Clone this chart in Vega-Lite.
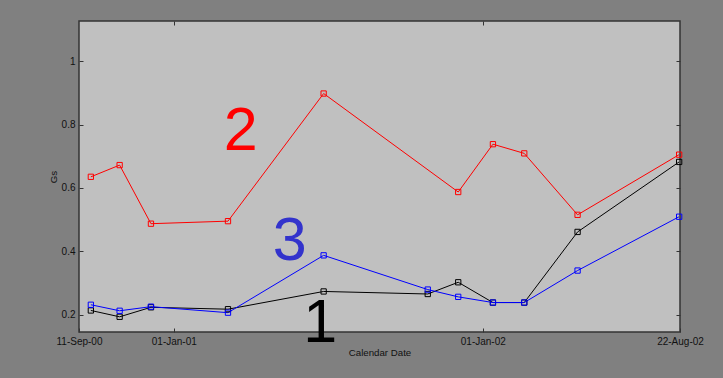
{
  "$schema": "https://vega.github.io/schema/vega-lite/v6.json",
  "width": 601,
  "height": 311,
  "autosize": "none",
  "padding": {"left": 79, "top": 21, "right": 43, "bottom": 46},
  "background": "#808080",
  "config": {
    "font": "Liberation Sans",
    "view": {"fill": "#c0c0c0", "stroke": "#333333", "strokeWidth": 1.5},
    "axis": {
      "domain": false,
      "grid": false,
      "ticks": true,
      "tickColor": "#333333",
      "tickSize": -4,
      "labelPadding": 8,
      "labelFont": "Liberation Sans",
      "labelFontSize": 10,
      "labelColor": "#111111",
      "titleFont": "Liberation Sans",
      "titleFontSize": 9.7,
      "titleFontWeight": "normal",
      "titleColor": "#111111"
    }
  },
  "datasets": {
    "gs": [
      {"date": "2000-09-25", "series": "1", "gs": 0.213},
      {"date": "2000-10-29", "series": "1", "gs": 0.193},
      {"date": "2000-12-05", "series": "1", "gs": 0.223},
      {"date": "2001-03-06", "series": "1", "gs": 0.217},
      {"date": "2001-06-27", "series": "1", "gs": 0.273},
      {"date": "2001-10-28", "series": "1", "gs": 0.265},
      {"date": "2001-12-03", "series": "1", "gs": 0.302},
      {"date": "2002-01-13", "series": "1", "gs": 0.238},
      {"date": "2002-02-19", "series": "1", "gs": 0.238},
      {"date": "2002-04-23", "series": "1", "gs": 0.461},
      {"date": "2002-08-21", "series": "1", "gs": 0.682},
      {"date": "2000-09-25", "series": "2", "gs": 0.635},
      {"date": "2000-10-29", "series": "2", "gs": 0.672},
      {"date": "2000-12-05", "series": "2", "gs": 0.487},
      {"date": "2001-03-06", "series": "2", "gs": 0.495},
      {"date": "2001-06-27", "series": "2", "gs": 0.898},
      {"date": "2001-12-03", "series": "2", "gs": 0.587},
      {"date": "2002-01-13", "series": "2", "gs": 0.738},
      {"date": "2002-02-19", "series": "2", "gs": 0.709},
      {"date": "2002-04-23", "series": "2", "gs": 0.515},
      {"date": "2002-08-21", "series": "2", "gs": 0.705},
      {"date": "2000-09-25", "series": "3", "gs": 0.231},
      {"date": "2000-10-29", "series": "3", "gs": 0.212},
      {"date": "2000-12-05", "series": "3", "gs": 0.225},
      {"date": "2001-03-06", "series": "3", "gs": 0.206},
      {"date": "2001-06-27", "series": "3", "gs": 0.387},
      {"date": "2001-10-28", "series": "3", "gs": 0.279},
      {"date": "2001-12-03", "series": "3", "gs": 0.256},
      {"date": "2002-01-13", "series": "3", "gs": 0.238},
      {"date": "2002-02-19", "series": "3", "gs": 0.238},
      {"date": "2002-04-23", "series": "3", "gs": 0.339},
      {"date": "2002-08-21", "series": "3", "gs": 0.509}
    ],
    "labels": [
      {"date": "2001-06-23", "gs": 0.114, "label": "1"},
      {"date": "2001-03-21", "gs": 0.72, "label": "2"},
      {"date": "2001-05-18", "gs": 0.372, "label": "3"}
    ]
  },
  "layer": [
    {
      "data": {"name": "gs"},
      "mark": {
        "type": "line",
        "strokeWidth": 1,
        "point": {"shape": "square", "filled": false, "size": 28, "strokeWidth": 1}
      },
      "encoding": {
        "x": {
          "field": "date",
          "type": "temporal",
          "scale": {
            "type": "utc",
            "domain": [
              {"year": 2000, "month": 9, "date": 11, "utc": true},
              {"year": 2002, "month": 8, "date": 22, "utc": true}
            ]
          },
          "axis": {
            "orient": "bottom",
            "title": "Calendar Date",
            "titlePadding": 1,
            "labelExpr": "utcFormat(datum.value, '%d-%b-%y')",
            "values": [
              {"year": 2000, "month": 9, "date": 11, "utc": true},
              {"year": 2001, "month": 1, "date": 1, "utc": true},
              {"year": 2002, "month": 1, "date": 1, "utc": true},
              {"year": 2002, "month": 8, "date": 22, "utc": true}
            ],
            "labelFlush": false,
            "labelOverlap": false,
            "labelBound": false
          }
        },
        "y": {
          "field": "gs",
          "type": "quantitative",
          "scale": {"domain": [0.145, 1.127], "nice": false, "zero": false},
          "axis": {
            "orient": "left",
            "title": "Gs",
            "titlePadding": 3,
            "values": [0.2, 0.4, 0.6, 0.8, 1],
            "format": "~g",
            "labelOverlap": false
          }
        },
        "color": {
          "field": "series",
          "type": "nominal",
          "scale": {"domain": ["1", "2", "3"], "range": ["#000000", "#ff0000", "#0000ff"]},
          "legend": null
        }
      }
    },
    {
      "data": {"name": "labels"},
      "mark": {"type": "text", "fontSize": 61, "font": "Liberation Sans", "align": "center", "baseline": "alphabetic"},
      "encoding": {
        "x": {
          "field": "date",
          "type": "temporal",
          "scale": {
            "type": "utc",
            "domain": [
              {"year": 2000, "month": 9, "date": 11, "utc": true},
              {"year": 2002, "month": 8, "date": 22, "utc": true}
            ]
          },
          "axis": {
            "orient": "top",
            "title": null,
            "labels": false,
            "values": [
              {"year": 2001, "month": 1, "date": 1, "utc": true},
              {"year": 2002, "month": 1, "date": 1, "utc": true}
            ]
          }
        },
        "y": {
          "field": "gs",
          "type": "quantitative",
          "scale": {"domain": [0.145, 1.127], "nice": false, "zero": false},
          "axis": {"orient": "right", "title": null, "labels": false, "values": [0.2, 0.4, 0.6, 0.8, 1]}
        },
        "text": {"field": "label", "type": "nominal"},
        "color": {
          "field": "label",
          "type": "nominal",
          "scale": {"domain": ["1", "2", "3"], "range": ["#000000", "#ff0000", "#3333cc"]},
          "legend": null
        }
      }
    }
  ],
  "resolve": {
    "scale": {"color": "independent"},
    "axis": {"x": "independent", "y": "independent"}
  }
}
